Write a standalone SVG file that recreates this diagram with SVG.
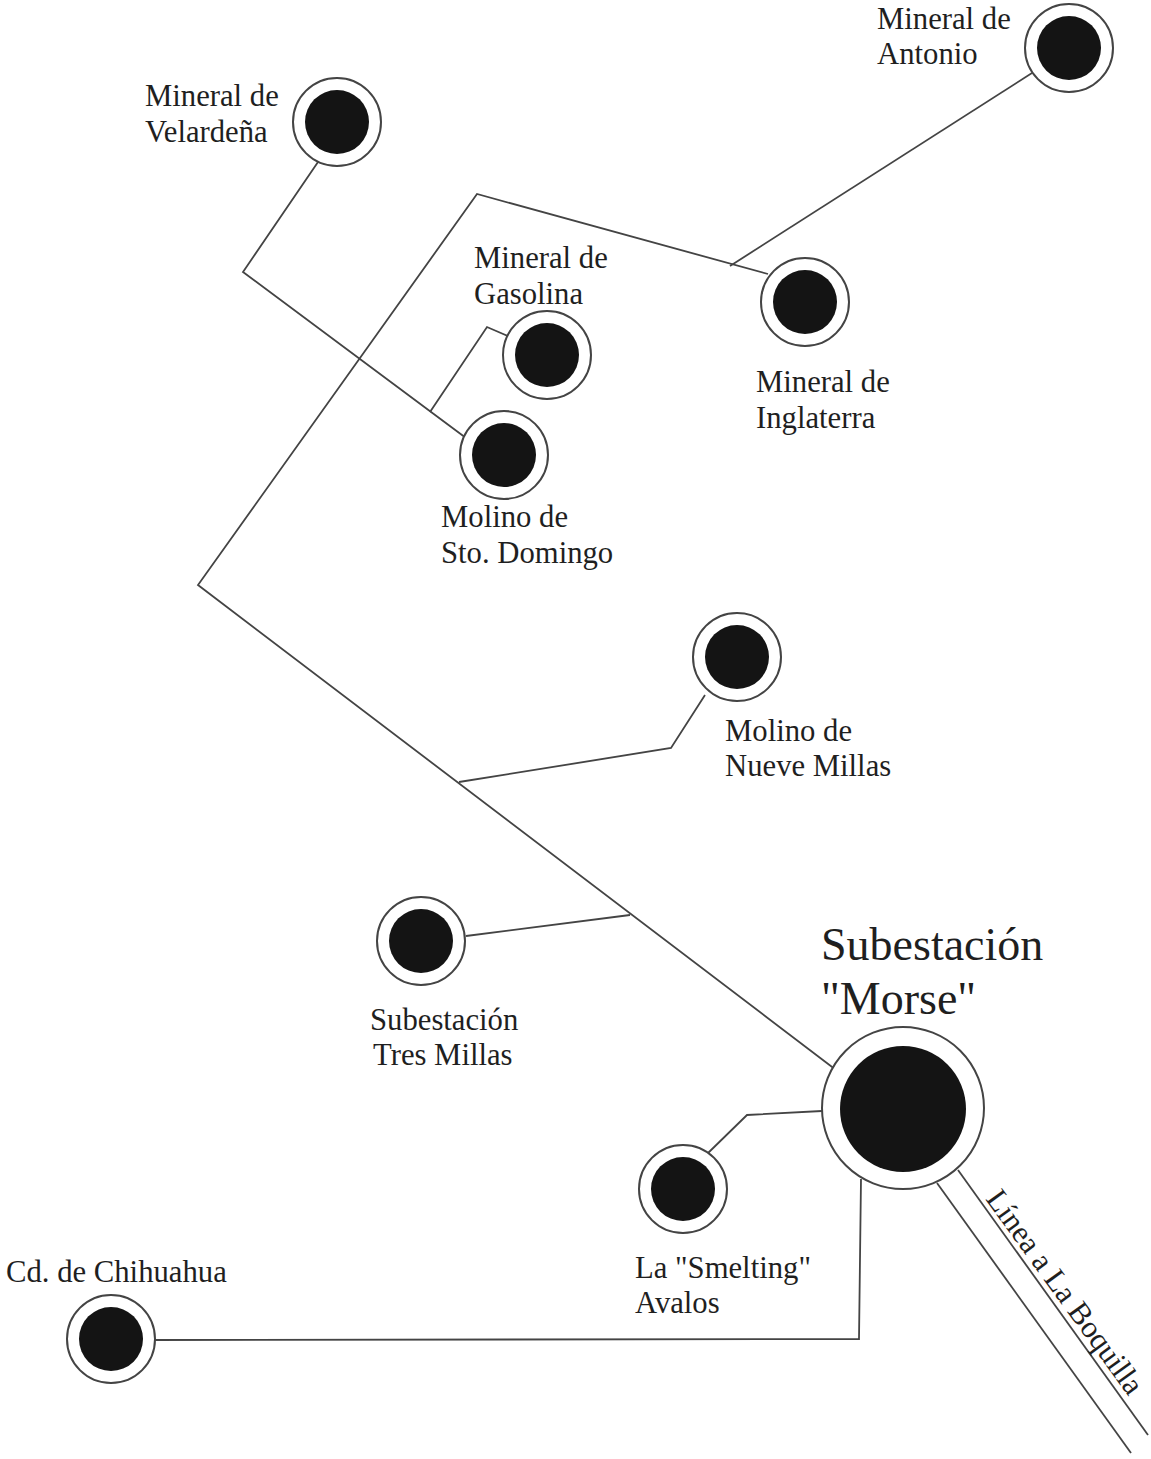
<svg xmlns="http://www.w3.org/2000/svg" width="1151" height="1459" viewBox="0 0 1151 1459">
<style>
.ring{fill:#fff;stroke:#444;stroke-width:2}
.dot{fill:#141414;stroke:none}
.line{fill:none;stroke:#444;stroke-width:1.8}
text{font-family:"Liberation Serif","Times New Roman",serif;font-size:30.7px;fill:#1f1f1f}
.big{font-size:46px}
</style>
<rect width="1151" height="1459" fill="#fff"/>
<g id="connectors">
<path class="line" d="M318 162L243 272L466 438"/>
<path class="line" d="M430 412L487 327L510 337"/>
<path class="line" d="M768 274L477 194L198 585L840 1073"/>
<path class="line" d="M730 266L1032 73"/>
<path class="line" d="M459 782L671 748L705 695"/>
<path class="line" d="M466 936L630 915"/>
<path class="line" d="M706 1155L747 1115L822 1111"/>
<path class="line" d="M155 1340L859 1339L861 1179"/>
<path class="line" d="M958 1170L1148 1435"/>
<path class="line" d="M937 1183L1131 1453"/>
</g>
<g id="velardena"><circle class="ring" cx="337" cy="122" r="44"/><circle class="dot" cx="337" cy="122" r="32"/><text x="145" y="106">Mineral de</text><text x="145" y="142">Velardeña</text></g>
<g id="antonio"><circle class="ring" cx="1069" cy="48" r="44"/><circle class="dot" cx="1069" cy="48" r="32"/><text x="877" y="29">Mineral de</text><text x="877" y="64">Antonio</text></g>
<g id="gasolina"><circle class="ring" cx="547" cy="355" r="44"/><circle class="dot" cx="547" cy="355" r="32"/><text x="474" y="268">Mineral de</text><text x="474" y="304">Gasolina</text></g>
<g id="inglaterra"><circle class="ring" cx="805" cy="302" r="44"/><circle class="dot" cx="805" cy="302" r="32"/><text x="756" y="392">Mineral de</text><text x="756" y="428">Inglaterra</text></g>
<g id="sto-domingo"><circle class="ring" cx="504" cy="455" r="44"/><circle class="dot" cx="504" cy="455" r="32"/><text x="441" y="527">Molino de</text><text x="441" y="563">Sto. Domingo</text></g>
<g id="nueve-millas"><circle class="ring" cx="737" cy="657" r="44"/><circle class="dot" cx="737" cy="657" r="32"/><text x="725" y="741">Molino de</text><text x="725" y="776">Nueve Millas</text></g>
<g id="tres-millas"><circle class="ring" cx="421" cy="941" r="44"/><circle class="dot" cx="421" cy="941" r="32"/><text x="370" y="1030">Subestación</text><text x="373" y="1065">Tres Millas</text></g>
<g id="morse"><circle class="ring" cx="903" cy="1108" r="81"/><circle class="dot" cx="903" cy="1109" r="63"/><text class="big" x="821" y="960">Subestación</text><text class="big" x="821" y="1014">"Morse"</text></g>
<g id="smelting"><circle class="ring" cx="683" cy="1189" r="44"/><circle class="dot" cx="683" cy="1189" r="32"/><text x="635" y="1278">La "Smelting"</text><text x="635" y="1313">Avalos</text></g>
<g id="chihuahua"><circle class="ring" cx="111" cy="1339" r="44"/><circle class="dot" cx="111" cy="1339" r="32"/><text x="6" y="1282">Cd. de Chihuahua</text></g>
<g id="boquilla"><text transform="translate(985 1199) rotate(54)">Línea a La Boquilla</text></g>
</svg>
